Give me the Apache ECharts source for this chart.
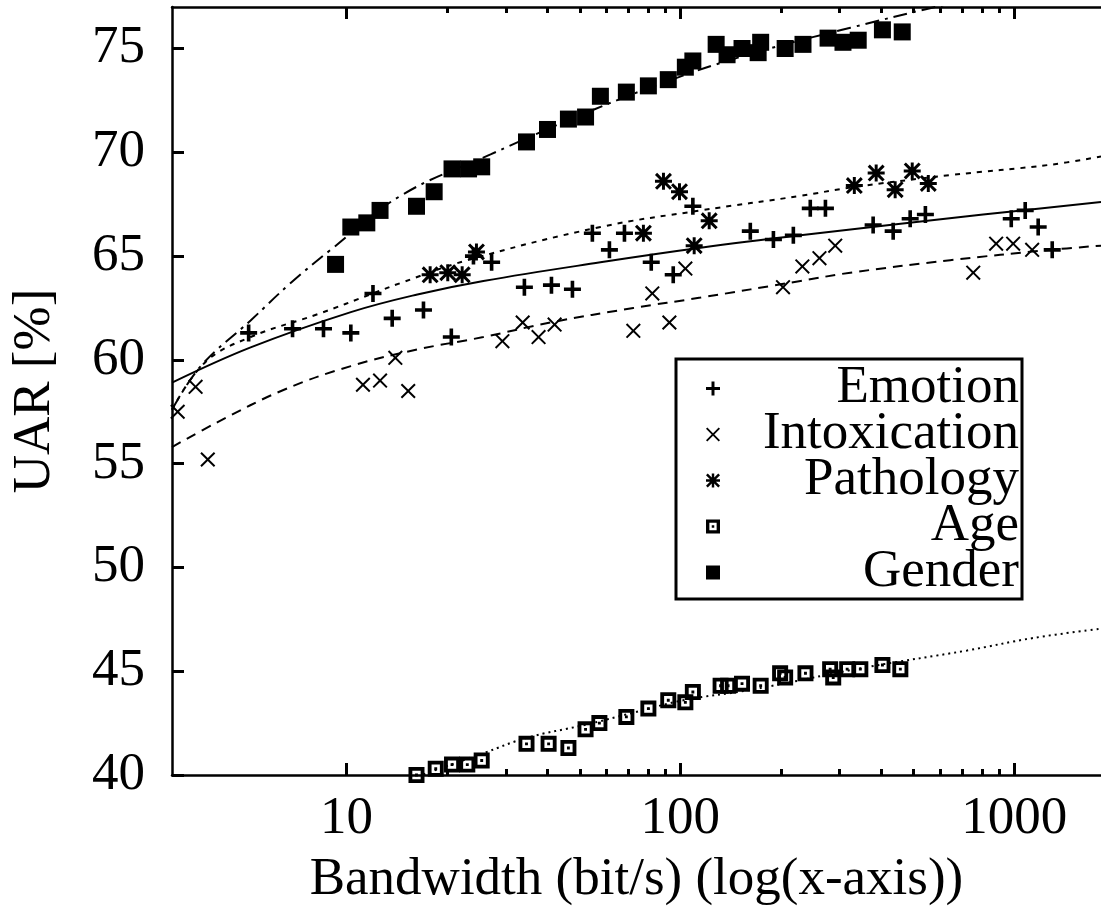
<!DOCTYPE html>
<html>
<head>
<meta charset="utf-8">
<script src="https://cdn.jsdelivr.net/npm/echarts@6.0.0/dist/echarts.min.js"></script>
<style>
  html, body { margin: 0; padding: 0; background: #fff; }
  #chart { width: 1101px; height: 914px; }
</style>
</head>
<body>
<div id="chart"></div>
<script>
// values (x = bandwidth in bit/s, y = UAR in %)
const emotionX = [5.09, 6.89, 8.53, 10.3, 12.0, 13.7, 17.0, 20.6, 24.0, 27.2, 34.1, 41.1, 47.5, 54.5, 61.3, 68.0, 81.8, 95.2, 109, 162, 190, 218, 245, 272, 378, 434, 488, 542, 980, 1079, 1180, 1300];
const emotionY = [61.3, 61.5, 61.5, 61.3, 63.2, 62.0, 62.4, 61.1, 65.0, 64.7, 63.5, 63.6, 63.4, 66.1, 65.3, 66.1, 64.7, 64.1, 67.4, 66.2, 65.8, 66.0, 67.3, 67.3, 66.5, 66.2, 66.8, 67.0, 66.8, 67.2, 66.4, 65.3];

const intoxX = [3.12, 3.53, 3.84, 11.2, 12.6, 14.0, 15.3, 29.3, 33.7, 37.6, 42.0, 72.3, 82.4, 92.7, 103.5, 203, 232, 261, 291, 754, 883, 993, 1132];
const intoxY = [57.5, 58.7, 55.2, 58.8, 59.0, 60.1, 58.5, 60.9, 61.8, 61.1, 61.7, 61.4, 63.2, 61.8, 64.4, 63.5, 64.5, 64.9, 65.5, 64.2, 65.6, 65.6, 65.3];

const pathX = [17.8, 20.1, 22.2, 24.5, 77.5, 89.0, 99.4, 110, 122, 332, 386, 440, 495, 553];
const pathY = [64.1, 64.2, 64.1, 65.2, 66.1, 68.6, 68.1, 65.5, 66.7, 68.4, 69.0, 68.2, 69.1, 68.5];

const ageX = [16.2, 18.5, 20.7, 23.0, 25.4, 34.6, 40.3, 46.2, 52.0, 57.2, 68.9, 80.2, 92.0, 103.5, 109, 132, 139, 153, 174, 199, 206, 237, 281, 287, 316, 346, 403, 456];
const ageY = [40.0, 40.3, 40.5, 40.5, 40.7, 41.5, 41.5, 41.3, 42.2, 42.5, 42.8, 43.2, 43.6, 43.5, 44.0, 44.3, 44.3, 44.4, 44.3, 44.9, 44.7, 44.9, 45.1, 44.7, 45.1, 45.1, 45.3, 45.1];

const genderX = [9.27, 10.3, 11.5, 12.6, 16.2, 18.3, 20.7, 23.2, 25.4, 34.6, 40.0, 46.2, 52.0, 57.6, 68.9, 80.2, 92.0, 103.5, 109, 128, 138, 153, 174, 171, 206, 233, 277, 307, 341, 403, 462];
const genderY = [64.6, 66.4, 66.6, 67.2, 67.4, 68.1, 69.2, 69.2, 69.3, 70.5, 71.1, 71.6, 71.7, 72.7, 72.9, 73.2, 73.5, 74.1, 74.4, 75.2, 74.7, 75.0, 75.3, 74.8, 75.0, 75.2, 75.5, 75.3, 75.4, 75.9, 75.8];

// fitted curves, read at a few points along each line
const emotionFitX = [3, 5.16, 10.3, 16.3, 25.7, 57.6, 115, 229, 807, 1820];
const emotionFitY = [58.9, 60.6, 62.3, 63.15, 63.8, 64.7, 65.4, 66.0, 67.0, 67.6];
const intoxFitX = [3, 4.11, 6.47, 10.3, 16.3, 25.7, 40.8, 72.3, 115, 229, 323, 643, 1283, 1820];
const intoxFitY = [55.8, 57.0, 58.55, 59.7, 60.5, 61.1, 61.8, 62.5, 63.0, 63.8, 64.2, 64.8, 65.3, 65.5];
const pathFitX = [3, 3.78, 5.16, 8.19, 12.0, 14.5, 23.0, 57.6, 115, 229, 323, 643, 1283, 1820];
const pathFitY = [57.6, 59.9, 61.1, 62.2, 63.2, 63.7, 64.8, 66.4, 67.2, 67.9, 68.3, 68.9, 69.4, 69.8];
const ageFitX = [14.0, 17.5, 25.7, 34.8, 51.3, 72.3, 102, 162, 363, 723, 1140, 1820];
const ageFitY = [39.5, 40.1, 41.05, 41.8, 42.4, 43.0, 43.6, 44.1, 45.2, 46.0, 46.6, 47.05];
const genderFitX = [3, 3.66, 5.16, 6.80, 8.96, 14.5, 27.0, 54.9, 98.0, 138, 195, 323, 580, 1820];
const genderFitY = [57.6, 59.7, 61.9, 63.7, 65.3, 67.9, 69.9, 72.05, 73.6, 74.4, 75.1, 76.0, 77.0, 78.8];

// axis ranges and tick marks
const xMin = 3, xMax = 1820, yMin = 40, yMax = 77;
const xMajorTicks = [10, 100, 1000];
const xMinorTicks = [20, 30, 40, 50, 60, 70, 80, 90, 200, 300, 400, 500, 600, 700, 800, 900];

const FONT = "'Liberation Serif', 'Times New Roman', serif";
const FS = 53;
const PLUS = 'path://M6.3,0H9.7V6.3H16V9.7H9.7V16H6.3V9.7H0V6.3H6.3Z';
const CROSS = 'path://M0,1.5L1.5,0L8,6.5L14.5,0L16,1.5L9.5,8L16,14.5L14.5,16L8,9.5L1.5,16L0,14.5L6.5,8Z';
const STAR = 'path://M6.6,0H9.4V6.6H16V9.4H9.4V16H6.6V9.4H0V6.6H6.6Z M0,2L2,0L8,6L14,0L16,2L10,8L16,14L14,16L8,10L2,16L0,14L6,8Z';
const DOTBOX = 'path://M0,0H10V10H0Z M2.4,2.4V7.6H7.6V2.4Z M4.1,4.1H5.9V5.9H4.1Z';

const zip = (xs, ys) => xs.map((x, i) => [x, ys[i]]);

const chart = echarts.init(document.getElementById('chart'), null, { renderer: 'canvas' });

const frame = { color: '#000', width: 2.5 };
const tickStyle = { color: '#000', width: 3 };

function scatter(name, xs, ys, symbol, size) {
  return {
    name: name, type: 'scatter', data: zip(xs, ys), symbol: symbol, symbolSize: size,
    itemStyle: { color: '#000', opacity: 1 }, z: 3
  };
}
function fit(name, xs, ys, type) {
  return {
    name: name, type: 'line', data: zip(xs, ys), showSymbol: false, smooth: 0.4,
    lineStyle: { color: '#000', width: 2, type: type }, z: 2, silent: true
  };
}
// one log x axis; the frame line and tick set differ per copy
function xAxisCopy(position, ticks, len, withLine) {
  return {
    type: 'log', logBase: 10, min: xMin, max: xMax, position: position,
    splitLine: { show: false },
    axisLine: { show: withLine, onZero: false, lineStyle: frame },
    axisTick: { show: true, inside: true, length: len, customValues: ticks, lineStyle: tickStyle },
    axisLabel: { show: false }
  };
}

const bottomAxis = xAxisCopy('bottom', xMajorTicks, 12, true);
bottomAxis.axisLabel = { show: true, customValues: xMajorTicks, formatter: v => String(v), fontFamily: FONT, fontSize: FS, color: '#000', margin: 18 };
bottomAxis.name = 'Bandwidth (bit/s) (log(x-axis))';
bottomAxis.nameLocation = 'middle';
bottomAxis.nameGap = 79;
bottomAxis.nameTextStyle = { fontFamily: FONT, fontSize: FS, color: '#000' };

chart.setOption({
  animation: false,
  backgroundColor: '#fff',
  grid: { left: 172, right: 0, top: 7, bottom: 139, outerBoundsMode: 'none' },
  legend: {
    orient: 'vertical', left: 676, top: 359,
    padding: [3, 3, 0, 30], itemGap: 46 - FS, itemWidth: 14, itemHeight: 14,
    borderColor: '#000', borderWidth: 3, backgroundColor: '#fff',
    selectedMode: false,
    data: [
      { name: 'Emotion', icon: PLUS },
      { name: 'Intoxication', icon: CROSS },
      { name: 'Pathology', icon: STAR },
      { name: 'Age', icon: DOTBOX },
      { name: 'Gender', icon: 'rect' }
    ],
    formatter: n => '{r|' + n + '}',
    textStyle: {
      rich: { r: { width: 294, align: 'right', fontFamily: FONT, fontSize: FS, color: '#000' } }
    }
  },
  xAxis: [
    bottomAxis,
    xAxisCopy('bottom', xMinorTicks, 6, false),
    xAxisCopy('top', xMajorTicks, 12, true),
    xAxisCopy('top', xMinorTicks, 6, false)
  ],
  yAxis: {
    type: 'value', min: yMin, max: yMax, interval: 5,
    axisLine: { show: true, onZero: false, lineStyle: frame },
    axisTick: { show: true, inside: true, length: 12, lineStyle: tickStyle },
    axisLabel: { showMaxLabel: false, fontFamily: FONT, fontSize: FS, color: '#000', margin: 27 },
    splitLine: { show: false },
    name: 'UAR [%]', nameLocation: 'middle', nameGap: 110, nameRotate: 90,
    nameTextStyle: { fontFamily: FONT, fontSize: FS, color: '#000' }
  },
  series: [
    fit('Emotion fit', emotionFitX, emotionFitY, 'solid'),
    fit('Intoxication fit', intoxFitX, intoxFitY, [10, 7]),
    fit('Pathology fit', pathFitX, pathFitY, [5, 6]),
    fit('Age fit', ageFitX, ageFitY, [2, 4]),
    fit('Gender fit', genderFitX, genderFitY, [14, 6, 3, 6]),
    scatter('Emotion', emotionX, emotionY, PLUS, 17),
    scatter('Intoxication', intoxX, intoxY, CROSS, 15),
    scatter('Pathology', pathX, pathY, STAR, 17),
    scatter('Age', ageX, ageY, DOTBOX, 16),
    scatter('Gender', genderX, genderY, 'rect', 17)
  ]
});
</script>
</body>
</html>
